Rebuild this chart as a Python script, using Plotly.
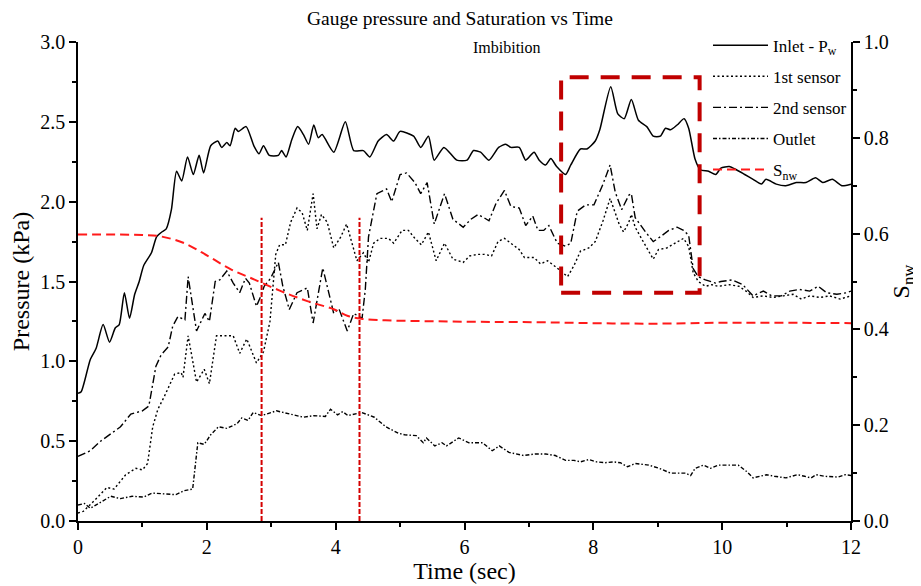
import plotly.graph_objects as go

# ---------------- data ----------------
inlet_t = [0.00, 0.05, 0.19, 0.28, 0.39, 0.49, 0.58, 0.64, 0.72, 0.80, 0.88, 0.95, 1.02, 1.14, 1.22, 1.30,
           1.37, 1.45, 1.53, 1.61, 1.70, 1.79, 1.88, 1.95, 2.06, 2.17, 2.23, 2.31, 2.36, 2.44, 2.49, 2.61,
           2.73, 2.81, 2.88, 2.97, 3.11, 3.16, 3.23, 3.32, 3.41, 3.50, 3.58, 3.66, 3.73, 3.79, 3.97, 4.15,
           4.28, 4.43, 4.53, 4.66, 4.79, 4.90, 5.00, 5.21, 5.32, 5.44, 5.53, 5.68, 5.88, 6.04, 6.14, 6.25,
           6.38, 6.53, 6.64, 6.72, 6.85, 6.95, 7.08, 7.16, 7.26, 7.34, 7.43, 7.57, 7.65, 7.80, 7.90, 8.03,
           8.10, 8.27, 8.38, 8.48, 8.59, 8.70, 8.83, 8.93, 9.04, 9.12, 9.20, 9.30, 9.41, 9.48, 9.58, 9.66,
           9.79, 9.90, 9.98, 10.11, 10.22, 10.35, 10.48, 10.61, 10.68, 10.84, 10.99, 11.15, 11.30, 11.45,
           11.56, 11.71, 11.86, 12.00]
inlet_p = [0.80, 0.81, 1.01, 1.08, 1.23, 1.12, 1.21, 1.23, 1.43, 1.27, 1.42, 1.50, 1.60, 1.68, 1.78, 1.81,
           1.83, 1.95, 2.19, 2.13, 2.28, 2.17, 2.29, 2.18, 2.35, 2.38, 2.34, 2.37, 2.35, 2.46, 2.44, 2.47,
           2.35, 2.30, 2.35, 2.29, 2.29, 2.32, 2.28, 2.39, 2.47, 2.42, 2.36, 2.48, 2.40, 2.42, 2.31, 2.50,
           2.32, 2.32, 2.28, 2.38, 2.42, 2.38, 2.44, 2.41, 2.34, 2.41, 2.26, 2.34, 2.26, 2.26, 2.32, 2.31,
           2.26, 2.34, 2.36, 2.34, 2.34, 2.26, 2.31, 2.26, 2.23, 2.27, 2.22, 2.17, 2.23, 2.33, 2.33, 2.38,
           2.45, 2.72, 2.55, 2.52, 2.64, 2.51, 2.47, 2.41, 2.41, 2.46, 2.45, 2.48, 2.52, 2.46, 2.265, 2.20,
           2.19, 2.17, 2.21, 2.22, 2.20, 2.17, 2.14, 2.11, 2.14, 2.11, 2.10, 2.12, 2.12, 2.15,
           2.12, 2.14, 2.10, 2.11]

s1_t = [0.00, 0.08, 0.26, 0.45, 0.56, 0.74, 0.90, 1.00, 1.08, 1.16, 1.24, 1.34, 1.50, 1.60, 1.63, 1.71,
        1.84, 1.96, 2.04, 2.15, 2.25, 2.41, 2.51, 2.62, 2.77, 2.88, 2.98, 3.07, 3.13, 3.22, 3.30, 3.40,
        3.48, 3.56, 3.65, 3.71, 3.78, 3.87, 3.97, 4.08, 4.17, 4.33, 4.43, 4.51, 4.59, 4.69, 4.82, 4.90,
        5.03, 5.13, 5.23, 5.33, 5.44, 5.56, 5.69, 5.82, 5.98, 6.08, 6.21, 6.31, 6.42, 6.52, 6.62, 6.72,
        6.85, 6.93, 7.08, 7.18, 7.29, 7.42, 7.60, 7.70, 7.80, 7.93, 8.03, 8.15, 8.26, 8.34, 8.40, 8.47,
        8.55, 8.59, 8.65, 8.76, 8.93, 9.01, 9.14, 9.27, 9.40, 9.48, 9.55, 9.63, 9.74, 9.84, 9.94, 10.11,
        10.26, 10.37, 10.48, 10.64, 10.79, 10.95, 11.10, 11.23, 11.36, 11.52, 11.67, 11.83, 12.00]
s1_p = [0.05, 0.06, 0.13, 0.21, 0.20, 0.29, 0.33, 0.32, 0.36, 0.59, 0.70, 0.78, 0.92, 0.93, 0.90, 1.16,
        0.87, 0.95, 0.86, 1.16, 1.16, 1.16, 1.05, 1.14, 0.99, 1.06, 1.25, 1.67, 1.73, 1.73, 1.87, 1.96,
        1.93, 1.82, 2.05, 1.83, 1.92, 1.87, 1.71, 1.78, 1.86, 1.63, 1.68, 1.62, 1.74, 1.77, 1.77, 1.74,
        1.82, 1.82, 1.77, 1.73, 1.81, 1.63, 1.74, 1.64, 1.62, 1.66, 1.67, 1.67, 1.66, 1.75, 1.77, 1.74,
        1.70, 1.65, 1.65, 1.61, 1.63, 1.59, 1.53, 1.60, 1.69, 1.71, 1.75, 1.88, 2.02, 1.93, 1.86, 1.81,
        1.87, 1.92, 1.84, 1.76, 1.64, 1.70, 1.71, 1.74, 1.77, 1.72, 1.555, 1.50, 1.47, 1.48, 1.47, 1.48,
        1.47, 1.44, 1.40, 1.41, 1.40, 1.41, 1.42, 1.39, 1.41, 1.40, 1.41, 1.39, 1.41]

s2_t = [0.00, 0.19, 0.35, 0.48, 0.66, 0.82, 1.00, 1.10, 1.21, 1.29, 1.40, 1.47, 1.55, 1.66, 1.71, 1.84,
        1.97, 2.04, 2.13, 2.20, 2.31, 2.41, 2.51, 2.60, 2.66, 2.77, 2.84, 2.89, 2.99, 3.11, 3.18, 3.28,
        3.40, 3.56, 3.65, 3.80, 3.97, 4.05, 4.18, 4.28, 4.41, 4.46, 4.51, 4.64, 4.79, 4.87, 5.00, 5.10,
        5.23, 5.32, 5.42, 5.53, 5.69, 5.82, 5.98, 6.10, 6.21, 6.30, 6.38, 6.49, 6.62, 6.72, 6.85, 6.95,
        7.06, 7.14, 7.23, 7.31, 7.44, 7.57, 7.65, 7.75, 7.88, 8.01, 8.15, 8.26, 8.34, 8.44, 8.55, 8.59,
        8.65, 8.81, 8.93, 9.04, 9.17, 9.30, 9.40, 9.48, 9.55, 9.63, 9.74, 9.90, 9.98, 10.16, 10.32, 10.48,
        10.64, 10.77, 10.92, 11.05, 11.20, 11.36, 11.49, 11.62, 11.78, 11.94, 12.00]
s2_p = [0.405, 0.44, 0.50, 0.54, 0.59, 0.67, 0.69, 0.72, 0.97, 1.04, 1.09, 1.22, 1.28, 1.26, 1.53, 1.19,
        1.30, 1.25, 1.50, 1.51, 1.565, 1.49, 1.43, 1.52, 1.49, 1.345, 1.41, 1.47, 1.52, 1.62, 1.47, 1.325,
        1.43, 1.46, 1.24, 1.585, 1.30, 1.33, 1.19, 1.30, 1.27, 1.45, 1.78, 2.05, 2.08, 2.00, 2.17, 2.18,
        2.12, 2.05, 2.12, 1.86, 2.05, 1.89, 1.84, 1.89, 1.92, 1.90, 1.88, 1.99, 2.07, 1.97, 1.96, 1.85,
        1.91, 1.82, 1.82, 1.85, 1.74, 1.72, 1.74, 1.94, 1.98, 1.98, 2.11, 2.23, 2.06, 1.95, 2.04, 2.05,
        1.90, 1.81, 1.75, 1.78, 1.82, 1.84, 1.82, 1.79, 1.58, 1.53, 1.51, 1.49, 1.50, 1.51, 1.48, 1.41,
        1.44, 1.41, 1.41, 1.44, 1.45, 1.44, 1.47, 1.43, 1.42, 1.43, 1.44]

out_t = [0.00, 0.10, 0.19, 0.35, 0.51, 0.66, 0.84, 1.02, 1.15, 1.33, 1.52, 1.65, 1.78, 1.86, 1.96, 2.06,
         2.18, 2.31, 2.47, 2.54, 2.64, 2.72, 2.85, 3.08, 3.29, 3.50, 3.66, 3.84, 3.92, 4.03, 4.11, 4.19,
         4.40, 4.60, 4.78, 4.97, 5.07, 5.25, 5.36, 5.41, 5.54, 5.65, 5.72, 5.91, 6.07, 6.28, 6.43, 6.54,
         6.69, 6.92, 7.10, 7.26, 7.41, 7.57, 7.70, 7.80, 7.93, 8.05, 8.18, 8.31, 8.42, 8.53, 8.65, 8.86,
         9.02, 9.20, 9.43, 9.51, 9.58, 9.71, 9.82, 9.94, 10.10, 10.25, 10.38, 10.48, 10.69, 10.81, 10.99,
         11.17, 11.28, 11.38, 11.46, 11.59, 11.80, 11.91, 12.00]
out_p = [0.10, 0.11, 0.08, 0.12, 0.155, 0.14, 0.155, 0.15, 0.175, 0.17, 0.165, 0.19, 0.20, 0.49, 0.48, 0.54,
         0.59, 0.58, 0.61, 0.645, 0.63, 0.68, 0.66, 0.69, 0.67, 0.65, 0.66, 0.655, 0.70, 0.665, 0.685, 0.66,
         0.68, 0.65, 0.59, 0.55, 0.54, 0.535, 0.49, 0.52, 0.47, 0.49, 0.47, 0.52, 0.49, 0.49, 0.44, 0.47,
         0.43, 0.41, 0.42, 0.42, 0.41, 0.38, 0.38, 0.37, 0.385, 0.37, 0.365, 0.37, 0.365, 0.34, 0.36, 0.35,
         0.33, 0.30, 0.30, 0.285, 0.33, 0.35, 0.33, 0.35, 0.35, 0.35, 0.31, 0.27, 0.29, 0.28, 0.27,
         0.29, 0.28, 0.27, 0.29, 0.28, 0.275, 0.29, 0.285]

snw_t = [0.0, 1.0, 1.29, 1.65, 2.02, 2.38, 2.74, 3.15, 3.56, 3.97, 4.19, 4.40, 4.77, 6.07, 7.1, 8.0, 8.9, 10.15, 12.0]
snw_v = [0.598, 0.597, 0.594, 0.58, 0.553, 0.525, 0.504, 0.48, 0.459, 0.442, 0.428, 0.422, 0.419, 0.416,
         0.415, 0.413, 0.412, 0.414, 0.413]

marker_times = [2.85, 4.37]          # vertical marker lines (sec)
marker_top = 1.9                      # kPa
box_t = [7.5, 9.65]                   # highlighted window (sec)
box_p = [1.43, 2.78]                  # highlighted window (kPa)

x_ticks = [0, 2, 4, 6, 8, 10, 12]
y_ticks = [0.0, 0.5, 1.0, 1.5, 2.0, 2.5, 3.0]
y2_ticks = [0.0, 0.2, 0.4, 0.6, 0.8, 1.0]

# ---------------- figure ----------------
FONT = "Liberation Serif, Times New Roman, serif"
fig = go.Figure()

fig.add_trace(go.Scatter(x=inlet_t, y=inlet_p, mode="lines", name="Inlet - P<sub>w</sub>",
                         line=dict(color="black", width=1.5, shape="spline", smoothing=0.6),
                         legendgroup="a"))
fig.add_trace(go.Scatter(x=s1_t, y=s1_p, mode="lines", name="1st sensor",
                         line=dict(color="black", width=1.4, dash="2px,2.5px"), legendgroup="b"))
fig.add_trace(go.Scatter(x=s2_t, y=s2_p, mode="lines", name="2nd sensor",
                         line=dict(color="black", width=1.4, dash="8px,3px,2px,3px"), legendgroup="c"))
fig.add_trace(go.Scatter(x=out_t, y=out_p, mode="lines", name="Outlet",
                         line=dict(color="black", width=1.4, dash="4px,2px,1.5px,2px"), legendgroup="d"))
fig.add_trace(go.Scatter(x=snw_t, y=snw_v, mode="lines", name="S<sub>nw</sub>", yaxis="y2",
                         line=dict(color="#ff1a1a", width=2, dash="9px,5px", shape="spline"),
                         legendgroup="e"))

for mt in marker_times:
    fig.add_shape(type="line", xref="x", yref="y", x0=mt, x1=mt, y0=0, y1=marker_top,
                  line=dict(color="#d40000", width=2, dash="5px,2px"))

fig.add_shape(type="rect", xref="x", yref="y", x0=box_t[0], x1=box_t[1], y0=box_p[0], y1=box_p[1],
              line=dict(color="#c00000", width=4, dash="19px,12px"))

fig.add_annotation(text="Imbibition", xref="paper", yref="paper", x=0.555, y=1.01,
                   showarrow=False, font=dict(family=FONT, size=16, color="black"))

axis_common = dict(showline=True, linecolor="black", linewidth=1.5, ticks="outside",
                   ticklen=7, tickwidth=1.5, tickcolor="black", showgrid=False, zeroline=False,
                   tickfont=dict(family=FONT, size=20, color="black"))

fig.update_layout(
    width=913, height=578,
    margin=dict(l=70, r=70, t=34, b=65, autoexpand=False),
    plot_bgcolor="white", paper_bgcolor="white",
    title=dict(text="Gauge pressure and Saturation vs Time", x=0.495, xanchor="center",
               y=0.983, yanchor="middle", font=dict(family=FONT, size=19.5, color="black")),
    xaxis=dict(range=[0, 12], tickvals=x_ticks, ticktext=[str(v) for v in x_ticks],
               title=dict(text="Time (sec)", font=dict(family=FONT, size=24, color="black"), standoff=2),
               minor=dict(dtick=1, ticks="outside", ticklen=4, tickwidth=1.5, tickcolor="black"),
               automargin=False, **axis_common),
    yaxis=dict(range=[0, 3], tickvals=y_ticks, ticktext=[f"{v:.1f}" for v in y_ticks],
               title=dict(text="Pressure (kPa)", font=dict(family=FONT, size=24, color="black"), standoff=6),
               minor=dict(dtick=0.25, ticks="outside", ticklen=4, tickwidth=1.5, tickcolor="black"),
               automargin=False, **axis_common),
    yaxis2=dict(range=[0, 1], overlaying="y", side="right", anchor="x",
                tickvals=y2_ticks, ticktext=[f"{v:.1f}" for v in y2_ticks],
                title=dict(text="S<sub>nw</sub>", font=dict(family=FONT, size=24, color="black"), standoff=4),
                minor=dict(dtick=0.1, ticks="outside", ticklen=4, tickwidth=1.5, tickcolor="black"),
                automargin=False, **axis_common),
    legend=dict(x=0.815, y=1.03, xanchor="left", yanchor="top", bgcolor="rgba(0,0,0,0)",
                font=dict(family=FONT, size=17, color="black"), itemwidth=55,
                tracegroupgap=6, traceorder="grouped"),
    showlegend=True,
)

fig.write_html("out.html")
